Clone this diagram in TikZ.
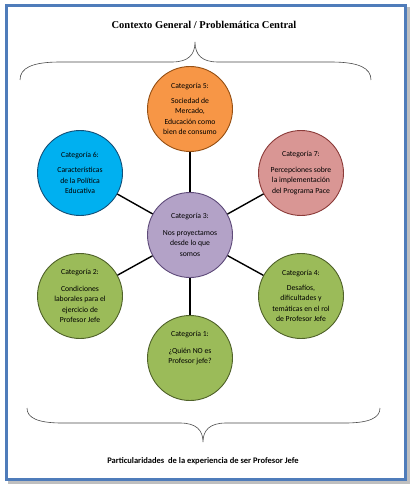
\documentclass[tikz,border=0pt]{standalone}
\usepackage{fontspec}
\setmainfont{Carlito}
\newfontfamily\titlefont{Liberation Serif}
\usepackage{tikz}

\definecolor{framebl}{RGB}{79,124,186}
\definecolor{orfill}{RGB}{247,150,70}
\definecolor{ordraw}{RGB}{150,80,20}
\definecolor{blfill}{RGB}{0,176,240}
\definecolor{bldraw}{RGB}{20,80,120}
\definecolor{pkfill}{RGB}{217,150,148}
\definecolor{pkdraw}{RGB}{140,60,58}
\definecolor{pufill}{RGB}{179,162,199}
\definecolor{pudraw}{RGB}{95,75,122}
\definecolor{grfill}{RGB}{155,187,89}
\definecolor{grdraw}{RGB}{80,98,42}

\begin{document}
\begin{tikzpicture}[x=1pt,y=-1pt,
    cat/.style={circle,draw,line width=0.9pt,minimum size=85pt,inner sep=0pt,
        align=center,font=\fontsize{7.7}{10.5}\selectfont},
    link/.style={line width=1.4pt,black},
    brace/.style={line width=0.6pt,black!70}]
            \useasboundingbox (0,0) rectangle (414,489);

            \draw[line width=3pt,black!25] (9,9) rectangle (408,482);
            \draw[line width=3pt,framebl,fill=white] (6,6) rectangle (405,479);

            \node[font=\titlefont\bfseries\fontsize{10.5}{12}\selectfont] (title) at (204,25)
                {Contexto General / Problemática Central};

            \draw[brace] (20,80) .. controls (20,68) and (32,62) .. (60,62)
                -- (172,62) .. controls (188,62) and (195,55) .. (195,42)
                .. controls (195,55) and (202,62) .. (218,62)
                -- (331,62) .. controls (359,62) and (371,68) .. (371,80);

            \node[cat,fill=orfill,draw=ordraw] (c5) at (190,109)
                {Categoría 5:\\[4pt]Sociedad de\\Mercado,\\Educación como\\bien de consumo};
            \node[cat,fill=blfill,draw=bldraw] (c6) at (80,173)
                {Categoría 6:\\[5pt]Características\\de la Política\\Educativa};
            \node[cat,fill=pkfill,draw=pkdraw] (c7) at (301,173)
                {Categoría 7:\\[5pt]Percepciones sobre\\la implementación\\del Programa Pace};
            \node[cat,fill=pufill,draw=pudraw] (c3) at (190,235)
                {Categoría 3:\\[6pt]Nos proyectamos\\desde lo que\\somos};
            \node[cat,fill=grfill,draw=grdraw] (c2) at (80,296)
                {Categoría 2:\\[6pt]Condiciones\\laborales para el\\ejercicio de\\Profesor Jefe};
            \node[cat,fill=grfill,draw=grdraw] (c4) at (301,296)
                {Categoría 4:\\[4pt]Desafíos,\\dificultades y\\temáticas en el rol\\de Profesor Jefe};
            \node[cat,fill=grfill,draw=grdraw] (c1) at (190,358)
                {Categoría 1:\\[6pt]¿Quién NO es\\Profesor jefe?\\[10pt]\mbox{}};

            \foreach \n in {c1,c2,c4,c5,c6,c7}
                \draw[link] (c3) -- (\n);

            \draw[brace] (27,408) .. controls (27,418) and (38,423) .. (62,423)
                -- (180,423) .. controls (196,423) and (203,430) .. (203,442)
                .. controls (203,430) and (210,423) .. (226,423)
                -- (345,423) .. controls (369,423) and (380,418) .. (380,408);

            \node[font=\bfseries\fontsize{8.5}{10}\selectfont] (foot) at (203,461)
                {Particularidades\ \ de la experiencia de ser Profesor Jefe};
        \end{tikzpicture}
\end{document}
